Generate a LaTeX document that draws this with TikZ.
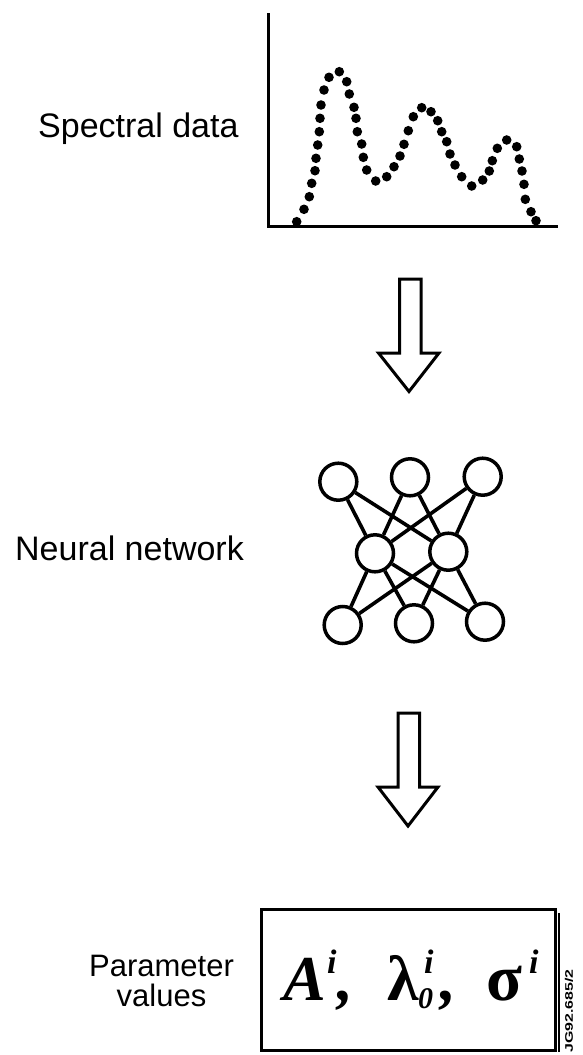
\documentclass[tikz,border=0pt]{standalone}
\usepackage{fontspec}
\setmainfont{Liberation Sans}
\newfontfamily\mathserif{Liberation Serif}
\newcommand{\putglyph}[3]{\rlap{\hspace*{#1}\raisebox{#2}{#3}}}
\begin{document}
\begin{tikzpicture}[x=1pt,y=-1pt,
  axis/.style={line width=3pt, line cap=butt, line join=miter},
  specdot/.style={fill=black},
  blockarrow/.style={draw, line width=3pt, fill=white, line join=miter},
  neuron/.style={circle, draw, line width=3.5pt, minimum size=37pt, inner sep=0pt, fill=white},
  synapse/.style={line width=3.6pt},
  lbl/.style={font=\fontsize{34}{34}\selectfont, inner sep=0pt},
  parambox/.style={draw, line width=3pt, minimum width=294pt, minimum height=141pt, inner sep=0pt},
  codelbl/.style={font=\fontsize{11}{11}\selectfont\bfseries, rotate=90, inner sep=0pt}]
\useasboundingbox (0,0) rectangle (583,1055);

% ---- spectral data plot
\node[lbl, anchor=base west] (spec) at (38,137) {Spectral data};
\coordinate (ytop) at (268.5,13);
\coordinate (origin) at (268.5,226.5);
\coordinate (xend) at (558,226.5);
\draw[axis] (ytop) -- (origin) -- (xend);
\foreach \px/\py in {296.7/221.7, 304/209.3, 309.3/196.7, 311.7/183.3, 315/170.7, 316/158.3,
  317.7/145, 319.3/131.7, 320/118.3, 321/105, 324/90, 329/77.3, 339.3/71.7, 346.7/81.7,
  349.3/94, 354/107.3, 356/118.3, 357.3/131.7, 361.7/144, 363.3/157.3, 366.7/170,
  375.7/181, 386.7/176.7, 394/166.7, 400/156, 404/144.3, 408.3/130.7, 413.3/116.7,
  421.7/107.7, 431/111.7, 437.7/120.7, 441.7/131.7, 446.7/141.7, 450/154, 455/165,
  461.7/176.7, 471.7/186, 482.7/180, 489.3/171, 492.3/160.7, 497.3/148.3, 506.7/140,
  516.7/146.7, 519.3/159, 522/171, 524/184.3, 525.3/199.3, 531/211.7, 536/220.7}
  \fill[specdot] (\px,\py) circle[radius=4.8pt];

% ---- arrow 1
\draw[blockarrow] (399.5,279) -- (421,279) -- (421,353) -- (439,353) -- (409,391.5)
  -- (378.5,353) -- (399.5,353) -- cycle;

% ---- neural network
\node[lbl, anchor=base west] (nnlbl) at (15,560) {Neural network};
\node[neuron] (t1) at (338.3,481.7) {};
\node[neuron] (t2) at (410,477.3) {};
\node[neuron] (t3) at (482.7,476.7) {};
\node[neuron] (m1) at (375,553.3) {};
\node[neuron] (m2) at (448.3,551.7) {};
\node[neuron] (b1) at (342.7,625) {};
\node[neuron] (b2) at (414,623.3) {};
\node[neuron] (b3) at (485,621.7) {};
\foreach \u in {t1,t2,t3} \foreach \v in {m1,m2} \draw[synapse] (\u) -- (\v);
\foreach \u in {m1,m2} \foreach \v in {b1,b2,b3} \draw[synapse] (\u) -- (\v);

% ---- arrow 2
\draw[blockarrow] (398,713) -- (419.5,713) -- (419.5,787) -- (438,787) -- (408,826)
  -- (378,787) -- (398,787) -- cycle;

% ---- parameter values
\node[lbl, align=center, font=\fontsize{31}{30}\selectfont] (parlbl) at (161.5,980.5) {Parameter\\values};
\node[parambox] (pbox) at (408.5,980) {};
\draw[line width=2.5pt] (559,913) -- (559,1052);
\node[anchor=base west, inner sep=0pt] (pvals) at (283,1000) {\mathserif\bfseries
  \putglyph{0pt}{0pt}{\fontsize{64}{64}\selectfont\itshape A}%
  \putglyph{44pt}{27pt}{\fontsize{34}{34}\selectfont\itshape i}%
  \putglyph{54pt}{0pt}{\fontsize{64}{64}\selectfont\itshape ,}%
  \putglyph{104pt}{0pt}{\fontsize{64}{64}\selectfont λ}%
  \putglyph{141pt}{27pt}{\fontsize{34}{34}\selectfont\itshape i}%
  \putglyph{135pt}{-8pt}{\fontsize{30}{30}\selectfont\itshape 0}%
  \putglyph{157pt}{0pt}{\fontsize{64}{64}\selectfont\itshape ,}%
  \putglyph{203pt}{0pt}{\fontsize{66}{66}\selectfont σ}%
  \putglyph{246pt}{27pt}{\fontsize{34}{34}\selectfont\itshape i}%
  \hspace*{256pt}};
\node[codelbl] (code) at (569,1011) {\scalebox{1.45}[1]{JG92.685/2}};
\end{tikzpicture}
\end{document}
